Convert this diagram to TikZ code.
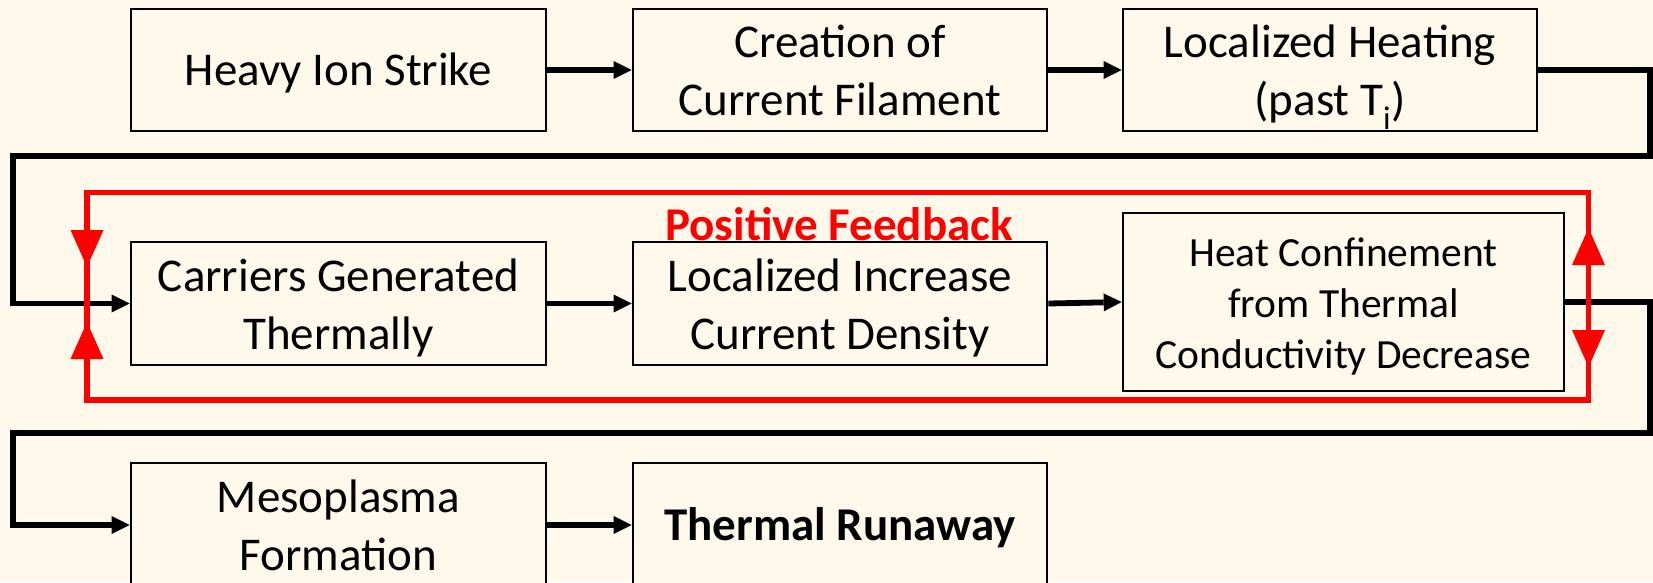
\documentclass[tikz,border=0pt]{standalone}
\usepackage{fontspec}
\setmainfont{Carlito}
\usetikzlibrary{arrows.meta}
\definecolor{bgcream}{RGB}{255,249,236}
\definecolor{fbred}{RGB}{255,0,0}
\begin{document}
\begin{tikzpicture}[x=1pt,y=-1pt,
  box/.style={draw=black, line width=2.7pt, fill=bgcream, rectangle, inner sep=0pt,
    align=center, font=\fontsize{47}{58}\selectfont, text depth=0pt},
  oneline/.style={text height=30.3pt},
  twoline/.style={text height=91pt},
  conn/.style={draw=black, line width=5.8pt, -{Triangle[length=18pt,width=18pt,line width=0pt]}},
  redline/.style={draw=fbred, line width=5.8pt},
  redtip/.style={draw=fbred, line width=5.8pt, -{Triangle[length=37pt,width=33pt,line width=0pt]}}
]
\useasboundingbox (0,0) rectangle (1653,582);
\fill[bgcream] (0,0) rectangle (1653,582);

% boxes
\node[box,oneline,minimum width=415pt,minimum height=122pt] (A) at (338.5,70) {Heavy Ion Strike};
\node[box,twoline,minimum width=414pt,minimum height=122pt] (B) at (840,70) {Creation of\\Current Filament};
\node[box,twoline,minimum width=414pt,minimum height=122pt] (C) at (1330,70) {Localized Heating\\(past T\textsubscript{i})};
\node[box,twoline,minimum width=415pt,minimum height=123pt] (D) at (338.5,303.5) {Carriers Generated\\Thermally};
\node[box,twoline,minimum width=414pt,minimum height=123pt] (E) at (840,303.5) {Localized Increase\\Current Density};
\node[box,minimum width=441pt,minimum height=178pt,font=\fontsize{41.5}{51}\selectfont,
  text height=133.7pt] (F) at (1343.5,302) {Heat Confinement\\from Thermal\\Conductivity Decrease};
\node[box,twoline,minimum width=415pt,minimum height=124pt] (G) at (338.5,525) {Mesoplasma\\Formation};
\node[box,oneline,minimum width=414pt,minimum height=124pt,font=\bfseries\fontsize{47}{58}\selectfont] (H) at (840,525) {Thermal Runaway};

% corner coordinates
\coordinate (r1) at (1650,156);
\coordinate (l1) at (13,156);
\coordinate (r2) at (1650,433);
\coordinate (l2) at (13,433);

% black connectors
\draw[conn] (A) -- (B);
\draw[conn] (B) -- (C);
\draw[conn] (C.east) -| (r1) -- (l1) |- (D.west);
\draw[conn] (D) -- (E);
\draw[conn] (E.east) -- (F.west);
\draw[conn] (F.east) -| (r2) -- (l2) |- (G.west);
\draw[conn] (G) -- (H);

% positive feedback loop
\coordinate (fbtl) at (87,192.5);
\coordinate (fbbr) at (1588.5,400);
\draw[redline] (fbtl) rectangle (fbbr);
\coordinate (lu1) at (87,225);   \coordinate (lu2) at (87,267);
\coordinate (ll1) at (87,365);   \coordinate (ll2) at (87,322);
\coordinate (ru1) at (1588.5,270); \coordinate (ru2) at (1588.5,228);
\coordinate (rl1) at (1588.5,325); \coordinate (rl2) at (1588.5,367);
\draw[redtip] (lu1) -- (lu2);
\draw[redtip] (ll1) -- (ll2);
\draw[redtip] (ru1) -- (ru2);
\draw[redtip] (rl1) -- (rl2);

\node[anchor=base, inner sep=0pt, text=fbred, font=\bfseries\fontsize{47}{56}\selectfont] (pf) at (839,240) {Positive Feedback};
\end{tikzpicture}
\end{document}
